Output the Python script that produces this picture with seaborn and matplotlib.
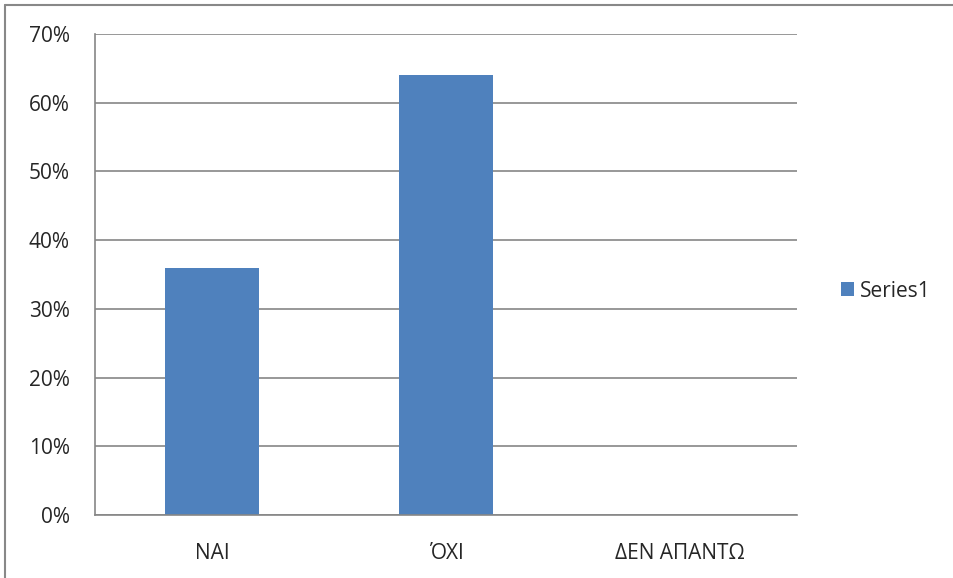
import numpy as np
import pandas as pd
import matplotlib
matplotlib.use("Agg")
import matplotlib.pyplot as plt
from matplotlib.lines import Line2D
from matplotlib.ticker import PercentFormatter
import seaborn as sns

categories = ["ΝΑΙ", "ΌΧΙ", "ΔΕΝ ΑΠΑΝΤΩ"]
values = [36, 64, 0]
series_name = "Series1"

sns.set_style("white")
plt.rcParams['font.family'] = ['Open Sans', 'DejaVu Sans']
plt.rcParams['font.size'] = 15

df = pd.DataFrame({"cat": categories, "val": values, "series": series_name})

fig = plt.figure(figsize=(9.54, 5.78), dpi=100)
ax = fig.add_axes([95/954, 1 - 515/578, (797-95)/954, (515-34)/578])

sns.barplot(data=df, x="cat", y="val", hue="series", palette=["#4F81BD"],
            width=0.4, saturation=1, linewidth=0, ax=ax, legend=True)

grid_c = "#868686"
ax.set_ylim(0, 70)
ax.set_yticks(np.arange(0, 71, 10))
ax.yaxis.set_major_formatter(PercentFormatter(decimals=0))
ax.set_xlim(-0.5, 2.5)
ax.set_xticks(range(len(categories)))
ax.set_xticks(np.arange(-0.5, 2.6, 1), minor=True)
ax.tick_params(axis="x", which="major", length=0, pad=20, labelsize=15)
ax.tick_params(axis="x", which="minor", length=8, width=1.2, color=grid_c, direction="out")
ax.tick_params(axis="y", length=9, width=1.2, color=grid_c, direction="out", pad=9, labelsize=15)
ax.yaxis.grid(True, color=grid_c, linewidth=1.2)
ax.set_axisbelow(True)
ax.set_xlabel("")
ax.set_ylabel("")
for s in ["top", "right"]:
    ax.spines[s].set_visible(False)
for s in ["left", "bottom"]:
    ax.spines[s].set_color(grid_c)
    ax.spines[s].set_linewidth(1.2)

leg = ax.legend(loc="center left", bbox_to_anchor=(841/954, 1 - 291/578),
                bbox_transform=fig.transFigure, frameon=False, borderpad=0,
                borderaxespad=0, handlelength=0.62, handleheight=0.62,
                handletextpad=0.3, fontsize=15)

# outer frame: only left and top edges visible in the reference
fig.lines.append(Line2D([5.5/954, 5.5/954], [0, 1 - 4.5/578], transform=fig.transFigure,
                        color="#888888", linewidth=1.5))
fig.lines.append(Line2D([5.5/954, 1], [1 - 4.5/578, 1 - 4.5/578], transform=fig.transFigure,
                        color="#888888", linewidth=1.5))

fig.savefig("out.png", dpi=100)
